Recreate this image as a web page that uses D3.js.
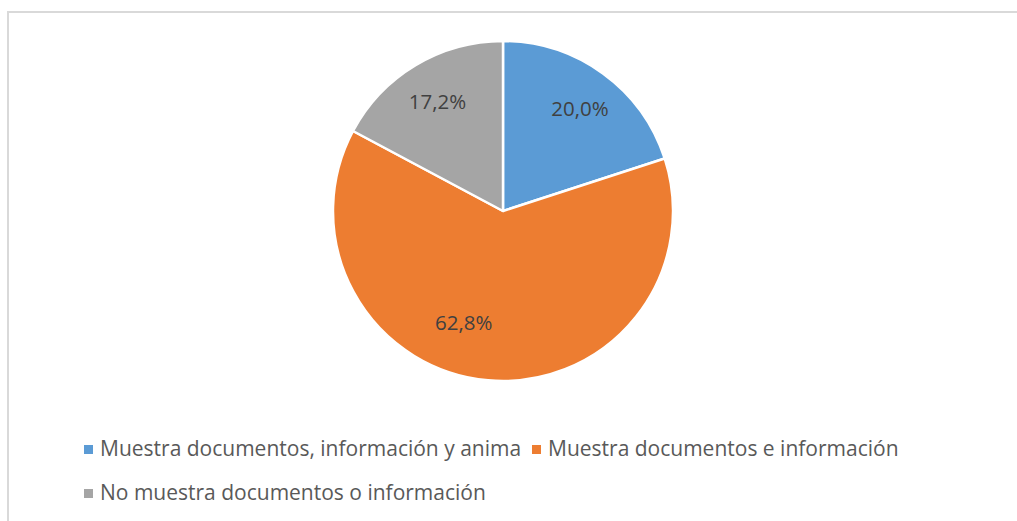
<!DOCTYPE html>
<html lang="es">
<head>
<meta charset="UTF-8">
<title>Pie</title>
<style>
  body { margin: 0; background: #fff; font-family: "Open Sans", "Liberation Sans", sans-serif; }
  svg { display: block; }
</style>
</head>
<body>
<svg id="chart" width="1017" height="521"></svg>
<script src="https://d3js.org/d3.v7.min.js"></script>
<script>
// datos
const categories = [
  "Muestra documentos, información y anima",
  "Muestra documentos e información",
  "No muestra documentos o información"
];
const values = [20.0, 62.8, 17.2];
const colors = ["#5B9BD5", "#ED7D31", "#A5A5A5"];

const svg = d3.select("#chart");

// marco del gráfico
svg.append("rect")
  .attr("x", 8).attr("y", 12)
  .attr("width", 1020).attr("height", 520)
  .attr("fill", "none")
  .attr("stroke", "#d9d9d9")
  .attr("stroke-width", 2);

const cx = 503, cy = 211, r = 170;

const pie = d3.pie().sort(null).value(d => d.value);
const arcs = pie(categories.map((c, i) => ({ name: c, value: values[i], color: colors[i] })));

const arc = d3.arc().innerRadius(0).outerRadius(r);
const labelArc = d3.arc().innerRadius(r * 0.75).outerRadius(r * 0.75);
// pequeño ajuste de las etiquetas (como lo coloca Excel)
const labelNudge = [[2, 1], [-28, -15], [0, 0]];

const g = svg.append("g").attr("transform", `translate(${cx},${cy})`);

g.selectAll("path")
  .data(arcs)
  .join("path")
  .attr("d", arc)
  .attr("fill", d => d.data.color)
  .attr("stroke", "#fff")
  .attr("stroke-width", 2.5)
  .attr("stroke-linejoin", "round");

const fmt = v => v.toFixed(1).replace(".", ",") + "%";

g.selectAll("text.lbl")
  .data(arcs)
  .join("text")
  .attr("class", "lbl")
  .attr("transform", (d, i) => {
    const [x, y] = labelArc.centroid(d);
    return `translate(${x + labelNudge[i][0]},${y + labelNudge[i][1]})`;
  })
  .attr("text-anchor", "middle")
  .attr("dy", "0.35em")
  .attr("fill", "#404040")
  .style("font-size", "20.5px")
  .text(d => fmt(d.data.value));

// leyenda
const legendPos = [
  { x: 84, y: 449 },
  { x: 532, y: 449 },
  { x: 84, y: 493 }
];
const leg = svg.append("g");
categories.forEach((c, i) => {
  const p = legendPos[i];
  leg.append("rect")
    .attr("x", p.x).attr("y", p.y - 4)
    .attr("width", 9).attr("height", 9)
    .attr("fill", colors[i]);
  leg.append("text")
    .attr("x", p.x + 16).attr("y", p.y)
    .attr("dy", "0.35em")
    .attr("fill", "#595959")
    .style("font-size", "21px")
    .text(c);
});
</script>
</body>
</html>
